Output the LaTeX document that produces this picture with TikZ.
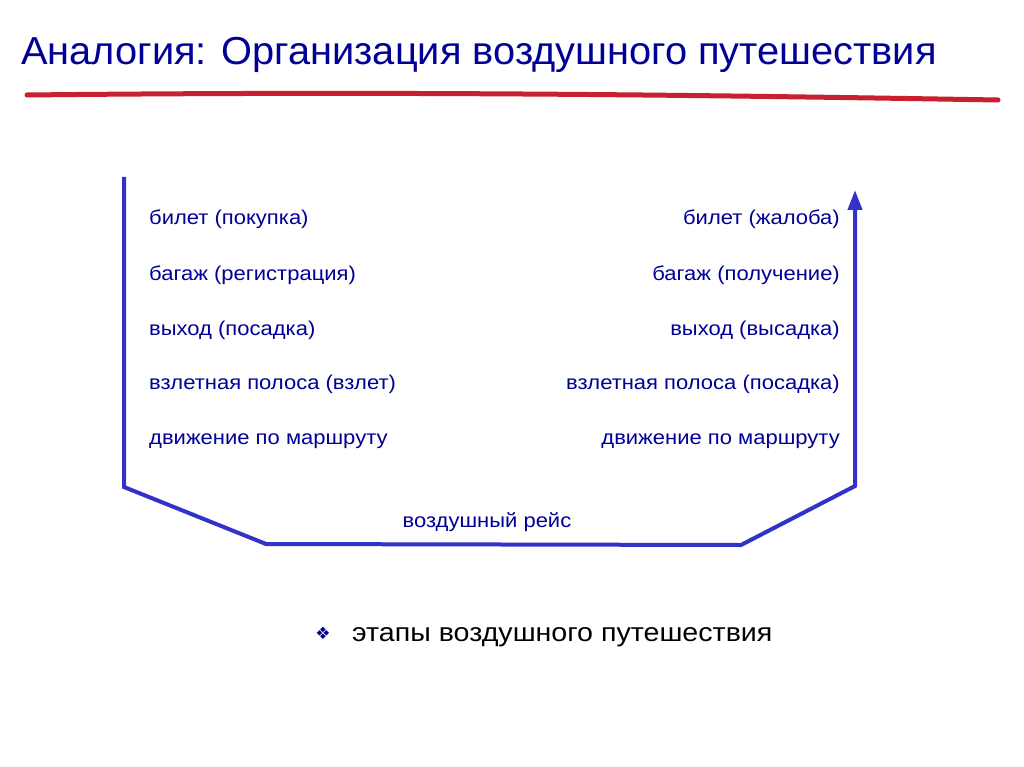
\documentclass[tikz,border=0pt]{standalone}
\usepackage{fontspec}
\setmainfont{Liberation Sans}
\newfontfamily\titlefont[FakeStretch=1.02]{Liberation Sans}
\newfontfamily\widefont[FakeStretch=1.1]{Liberation Sans}
\newfontfamily\dingfont{DejaVu Sans}
\usetikzlibrary{arrows.meta}
\definecolor{navy}{RGB}{0,0,150}
\definecolor{frameblue}{RGB}{50,50,200}
\definecolor{redline}{RGB}{200,32,46}
\tikzset{
	lstage/.style={anchor=base west, text=navy, font=\widefont\fontsize{20}{22}\selectfont, inner sep=0},
	rstage/.style={anchor=base east, text=navy, font=\widefont\fontsize{20}{22}\selectfont, inner sep=0},
}

\begin{document}
\begin{tikzpicture}[x=1pt, y=-1pt]
		%%%%% START %%%%%
		\useasboundingbox[fill=white] (0, 0) rectangle (1024, 767);
		
		\node[anchor=base west, text=navy, inner sep=0, font=\titlefont\fontsize{39}{42}\selectfont] (title) at (21, 65) {Аналогия: Организация воздушного путешествия};
		\draw[line width=5pt, color=redline, line cap=round] (27, 95) .. controls (400, 91) and (700, 95) .. (998, 100);
		
		% frame
		\coordinate (start) at (124, 177);
		\coordinate (lcorner) at (124, 487);
		\coordinate (lbottom) at (266, 544);
		\coordinate (rbottom) at (741, 545);
		\coordinate (rcorner) at (855, 486);
		\coordinate (finish) at (855, 190);
		\draw[line width=4pt, color=frameblue, -{Triangle[length=20pt, width=14pt]}] (start) -- (lcorner) -- (lbottom) -- (rbottom) -- (rcorner) -- (finish);
		
		% left stages
		\node[lstage] (ticketbuy) at (149, 225) {билет (покупка)};
		\node[lstage] (baggagecheck) at (149, 280) {багаж (регистрация)};
		\node[lstage] (gateboard) at (149, 335) {выход (посадка)};
		\node[lstage] (runwayoff) at (149, 389) {взлетная полоса (взлет)};
		\node[lstage] (routeleft) at (149, 444) {движение по маршруту};
		
		% right stages
		\node[rstage] (ticketcomplain) at (840, 225) {билет (жалоба)};
		\node[rstage] (baggageclaim) at (840, 280) {багаж (получение)};
		\node[rstage] (gateexit) at (840, 335) {выход (высадка)};
		\node[rstage] (runwayland) at (840, 389) {взлетная полоса (посадка)};
		\node[rstage] (routeright) at (840, 444) {движение по маршруту};
		
		\node[anchor=base, text=navy, inner sep=0, font=\widefont\fontsize{20}{22}\selectfont] (flight) at (487, 527) {воздушный рейс};
		
		% bullet
		\node[text=navy, inner sep=0, font=\dingfont\fontsize{17}{18}\selectfont] (bullet) at (323, 633) {❖};
		\node[anchor=base west, inner sep=0, font=\widefont\fontsize{26}{28}\selectfont] (stages) at (352, 641) {этапы воздушного путешествия};
		
		%%%%% END %%%%%
	\end{tikzpicture}
\end{document}
